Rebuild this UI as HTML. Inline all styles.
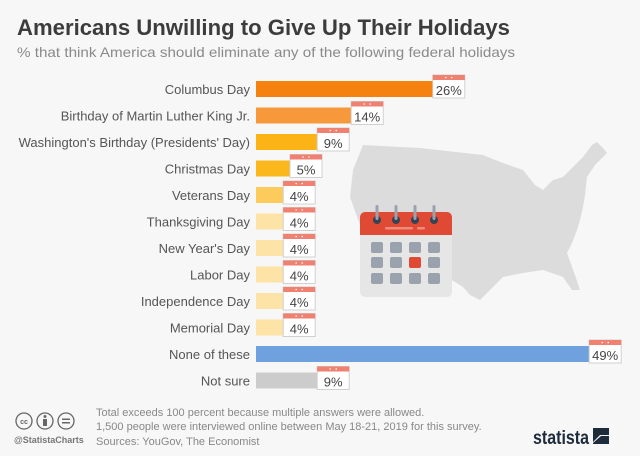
<!DOCTYPE html>
<html><head><meta charset="utf-8"><style>
html,body{margin:0;padding:0;background:#f7f7f7;}
svg{display:block;font-family:"Liberation Sans",sans-serif;}
</style></head><body>
<svg id="chart" width="640" height="456" viewBox="0 0 640 456">
<rect x="0" y="0" width="640" height="456" fill="#f7f7f7"/>
<text x="17" y="35" font-size="22" font-weight="bold" fill="#3c3c3c" textLength="493" lengthAdjust="spacingAndGlyphs">Americans Unwilling to Give Up Their Holidays</text>
<text x="17" y="57" font-size="14" fill="#8a8a8a" textLength="498" lengthAdjust="spacingAndGlyphs">% that think America should eliminate any of the following federal holidays</text>
<polygon fill="#dcdcdc" points="363,145 420,148 483,155 503,163 523,170 535,185 543,190 553,180 563,177 575,165 583,157 592,145 597,142 603,148 607,153 595,165 587,177 585,195 583,207 580,220 577,230 572,243 567,253 575,275 580,290 572,290 563,277 543,270 523,273 503,277 490,290 480,300 470,295 463,287 447,277 430,270 403,260 380,250 373,243 360,225 350,197 353,170"/>
<g>
<rect x="360" y="212" width="92" height="85" rx="5" fill="#e6e6e6"/>
<path d="M360,235 V217 a5,5 0 0 1 5,-5 H447 a5,5 0 0 1 5,5 V235 Z" fill="#e04a35"/>
<rect x="385" y="227" width="28" height="2.5" rx="1" fill="#ec8a7c"/>
<rect x="417" y="227" width="8" height="2.5" rx="1" fill="#ec8a7c"/>
<g fill="#354455"><circle cx="377" cy="220" r="4"/><circle cx="396" cy="220" r="4"/><circle cx="415" cy="220" r="4"/><circle cx="434" cy="220" r="4"/></g>
<g fill="#9aa3ad"><rect x="375.5" y="205" width="3" height="15" rx="1.5"/><rect x="394.5" y="205" width="3" height="15" rx="1.5"/><rect x="413.5" y="205" width="3" height="15" rx="1.5"/><rect x="432.5" y="205" width="3" height="15" rx="1.5"/></g>
<g fill="#9aa3ad">
<rect x="371" y="242" width="12" height="11" rx="2"/><rect x="390" y="242" width="12" height="11" rx="2"/><rect x="409" y="242" width="12" height="11" rx="2"/><rect x="428" y="242" width="12" height="11" rx="2"/>
<rect x="371" y="257" width="12" height="11" rx="2"/><rect x="390" y="257" width="12" height="11" rx="2"/><rect x="428" y="257" width="12" height="11" rx="2"/>
<rect x="371" y="273" width="12" height="11" rx="2"/><rect x="390" y="273" width="12" height="11" rx="2"/><rect x="409" y="273" width="12" height="11" rx="2"/><rect x="428" y="273" width="12" height="11" rx="2"/>
</g>
<rect x="409" y="257" width="12" height="11" rx="2" fill="#e04a35"/>
</g>
<g id="bars"></g>
<g>
<g fill="none" stroke="#666" stroke-width="1.3">
<circle cx="24" cy="421" r="8"/>
<circle cx="45" cy="421" r="8"/>
<circle cx="66" cy="421" r="8"/>
</g>
<text x="24" y="424" font-size="7" font-weight="bold" fill="#666" text-anchor="middle">cc</text>
<circle cx="45" cy="416.5" r="1.5" fill="#666"/><rect x="43" y="419" width="4" height="7" fill="#666"/>
<rect x="62" y="418.5" width="8" height="1.5" fill="#666"/><rect x="62" y="422" width="8" height="1.5" fill="#666"/>
<text x="14" y="443" font-size="9" font-weight="bold" fill="#777">@StatistaCharts</text>
<text x="96" y="416" font-size="11" fill="#888">Total exceeds 100 percent because multiple answers were allowed.</text>
<text x="96" y="430" font-size="11" fill="#888">1,500 people were interviewed online between May 18-21, 2019 for this survey.</text>
<text x="96" y="445" font-size="11" fill="#888">Sources: YouGov, The Economist</text>
<text x="533" y="444" font-size="19" font-weight="bold" fill="#1d2b3b" textLength="56" lengthAdjust="spacingAndGlyphs">statista</text>
<path d="M593,428 h16 v7 l-9,0 l-7,7 v-14 z M609,444 h-16 v-1 l8,-7 h8 z" fill="#1d2b3b"/>
</g>
</svg>
<script>
const categories=["Columbus Day","Birthday of Martin Luther King Jr.","Washington's Birthday (Presidents' Day)","Christmas Day","Veterans Day","Thanksgiving Day","New Year's Day","Labor Day","Independence Day","Memorial Day","None of these","Not sure"];
const values=[26,14,9,5,4,4,4,4,4,4,49,9];
const colors=["#f5820f","#f7993a","#fbb316","#fbb81c","#fccb5c","#fde3a5","#fde3a5","#fde3a5","#fde3a5","#fde3a5","#6fa1de","#cccccc"];
const ns="http://www.w3.org/2000/svg";
const g=document.getElementById('bars');
const x0=256, pxPer=6.8, rowY0=89, rowStep=26.5, barH=16;
function xs(v){return x0+v*pxPer;}
function ys(i){return rowY0+i*rowStep;}
function mk(tag,attrs){const e=document.createElementNS(ns,tag);for(const k in attrs)e.setAttribute(k,attrs[k]);return e;}
categories.forEach((c,i)=>{
  const y=ys(i);
  const t=mk('text',{x:250,y:y+5,'font-size':13,fill:'#555','text-anchor':'end'});
  t.textContent=c;
  
  
  g.appendChild(t);
  const r=mk('rect',{x:x0,y:y-barH/2,width:xs(values[i])-x0,height:barH,fill:colors[i]});
  
  
  g.appendChild(r);
  const bx=xs(values[i]);
  const box=mk('g',{});
  
  
  box.appendChild(mk('rect',{x:bx,y:y-14,width:32,height:23,fill:'#fff',stroke:'#d0d0d0','stroke-width':1}));
  box.appendChild(mk('rect',{x:bx,y:y-14,width:32,height:5,fill:'#f08070'}));
  box.appendChild(mk('circle',{cx:bx+13,cy:y-11.5,r:0.8,fill:'#fff'}));
  box.appendChild(mk('circle',{cx:bx+19,cy:y-11.5,r:0.8,fill:'#fff'}));
  const vt=mk('text',{x:bx+16,y:y+6,'font-size':13,fill:'#444','text-anchor':'middle'});
  vt.textContent=values[i]+'%';
  box.appendChild(vt);
  g.appendChild(box);
});
</script>
</body></html>
